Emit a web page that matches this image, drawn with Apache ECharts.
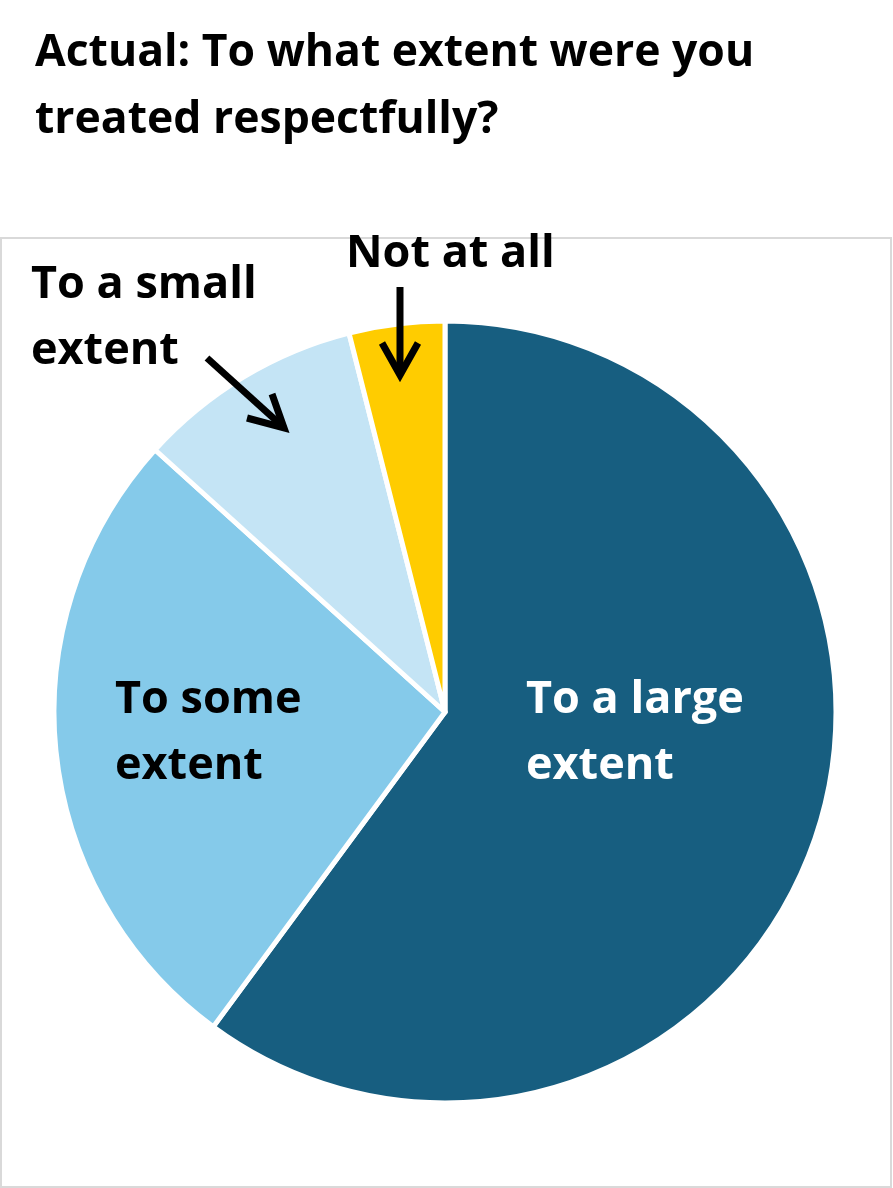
<!DOCTYPE html>
<html>
<head>
<meta charset="utf-8">
<script src="https://cdn.jsdelivr.net/npm/echarts@6/dist/echarts.min.js"></script>
<style>
html,body{margin:0;padding:0;background:#fff;}
#chart{width:893px;height:1188px;}
</style>
</head>
<body>
<div id="chart"></div>
<script>
// ---- data ----
var titleText = 'Actual: To what extent were you\ntreated respectfully?';
var categories = ['To a large extent', 'To some extent', 'To a small extent', 'Not at all'];
var labelTexts = ['To a large\nextent', 'To some\nextent', 'To a small\nextent', 'Not at all'];
var values = [60.1, 26.6, 9.35, 3.95];
var colors = ['#175E80', '#85CAEA', '#C4E4F5', '#FFCC00'];
var labelColors = ['#ffffff', '#000000', '#000000', '#000000'];

// label placement (left x, vertical middle y)
var labelPos = [
  { x: 526, y: 733 },
  { x: 115, y: 733 },
  { x: 31, y: 318 },
  { x: 346, y: 254 }
];

var FONT = '"Open Sans", Roboto, sans-serif';

var chart = echarts.init(document.getElementById('chart'), null, { renderer: 'canvas' });

var data = categories.map(function (c, i) {
  return {
    name: c,
    value: values[i],
    itemStyle: { color: colors[i] },
    label: { formatter: labelTexts[i], color: labelColors[i] }
  };
});

function arrow(shaft, head) {
  return [
    { type: 'polyline', shape: { points: shaft }, style: { stroke: '#000', lineWidth: 7, fill: null, lineCap: 'butt' }, z: 100 },
    { type: 'polyline', shape: { points: head }, style: { stroke: '#000', lineWidth: 7, fill: null, lineJoin: 'miter', lineCap: 'butt' }, z: 100 }
  ];
}

var graphics = [
  { type: 'rect', shape: { x: 1, y: 238, width: 890, height: 949 }, style: { fill: null, stroke: '#D9D9D9', lineWidth: 2 }, z: -10 }
].concat(
  arrow([[400, 287], [400, 372]], [[382, 343], [400, 375], [418, 343]]),
  arrow([[207, 358], [281, 425]], [[272, 394], [284, 428], [247, 418]])
);

chart.setOption({
  backgroundColor: '#ffffff',
  animation: false,
  title: {
    text: titleText,
    left: 30,
    top: 15,
    textStyle: { fontFamily: FONT, fontSize: 44.5, fontWeight: 'bold', color: '#000', lineHeight: 67 }
  },
  graphic: graphics,
  series: [{
    type: 'pie',
    center: [445, 712],
    radius: 391,
    startAngle: 90,
    clockwise: true,
    avoidLabelOverlap: false,
    itemStyle: { borderColor: '#ffffff', borderWidth: 5 },
    label: {
      show: true,
      position: 'inside',
      fontFamily: FONT,
      fontSize: 45,
      fontWeight: 'bold',
      lineHeight: 66,
      align: 'left'
    },
    labelLine: { show: false },
    labelLayout: function (p) {
      var pos = labelPos[p.dataIndex];
      return { x: pos.x, y: pos.y, align: 'left', verticalAlign: 'middle' };
    },
    emphasis: { disabled: true },
    data: data
  }]
});
</script>
</body>
</html>
